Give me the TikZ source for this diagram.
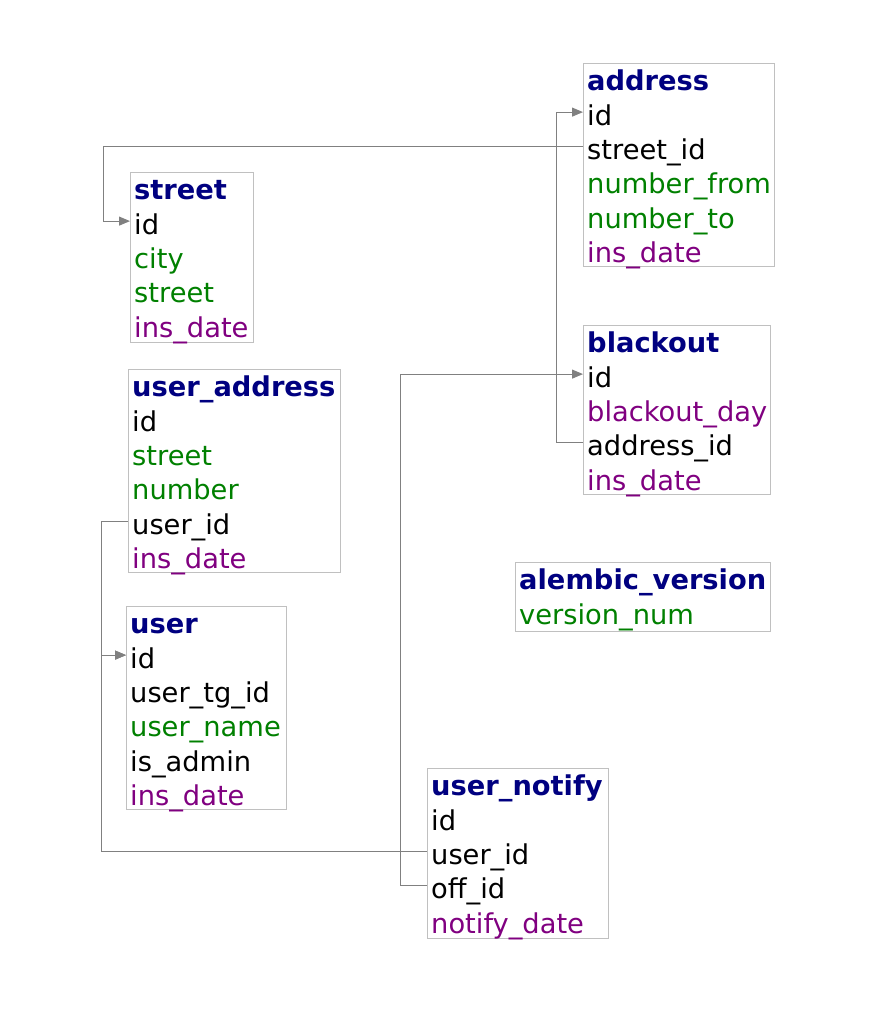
\documentclass[tikz,border=0pt]{standalone}
\usepackage{fontspec}
\setmainfont{DejaVu Sans}
\usetikzlibrary{arrows.meta}
\definecolor{ttlblue}{RGB}{0,0,128}
\definecolor{fgreen}{RGB}{0,128,0}
\definecolor{fpurple}{RGB}{128,0,128}
\definecolor{boxgray}{RGB}{192,192,192}
\definecolor{linegray}{RGB}{128,128,128}

\tikzset{
  tbl/.style={draw=boxgray, line width=1pt, anchor=north west, inner sep=0pt},
  fld/.style={anchor=north west, inner xsep=4pt, inner ysep=3.5pt,
    font=\fontsize{27.3}{27}\selectfont, text height=26.5pt, text depth=0.5pt},
  ttl/.style={fld, yshift=2.5pt, font=\fontsize{27.3}{27}\selectfont\bfseries, text=ttlblue},
  gr/.style={fld, text=fgreen},
  pu/.style={fld, text=fpurple},
  fk/.style={draw=linegray, line width=1pt, -{Triangle[length=11pt,width=9pt]}}
}

\begin{document}
\begin{tikzpicture}[x=1pt, y=-1pt]
  \useasboundingbox (0,0) rectangle (880,1020);

  % address
  \node[tbl, minimum width=191pt, minimum height=203pt] (address) at (583,63) {};
  \node[ttl] (address-t) at (address.north west) {address};
  \node[fld] (address-id) at (address-t.south west) {id};
  \node[fld] (address-street_id) at (address-id.south west) {street\_id};
  \node[gr] (address-number_from) at (address-street_id.south west) {number\_from};
  \node[gr] (address-number_to) at (address-number_from.south west) {number\_to};
  \node[pu] (address-ins_date) at (address-number_to.south west) {ins\_date};

  % street
  \node[tbl, minimum width=123pt, minimum height=170pt] (street) at (130,172) {};
  \node[ttl] (street-t) at (street.north west) {street};
  \node[fld] (street-id) at (street-t.south west) {id};
  \node[gr] (street-city) at (street-id.south west) {city};
  \node[gr] (street-street) at (street-city.south west) {street};
  \node[pu] (street-ins_date) at (street-street.south west) {ins\_date};

  % blackout
  \node[tbl, minimum width=187pt, minimum height=169pt] (blackout) at (583,325) {};
  \node[ttl] (blackout-t) at (blackout.north west) {blackout};
  \node[fld] (blackout-id) at (blackout-t.south west) {id};
  \node[pu] (blackout-blackout_day) at (blackout-id.south west) {blackout\_day};
  \node[fld] (blackout-address_id) at (blackout-blackout_day.south west) {address\_id};
  \node[pu] (blackout-ins_date) at (blackout-address_id.south west) {ins\_date};

  % user_address
  \node[tbl, minimum width=212pt, minimum height=203pt] (user_address) at (128,369) {};
  \node[ttl] (user_address-t) at (user_address.north west) {user\_address};
  \node[fld] (user_address-id) at (user_address-t.south west) {id};
  \node[gr] (user_address-street) at (user_address-id.south west) {street};
  \node[gr] (user_address-number) at (user_address-street.south west) {number};
  \node[fld] (user_address-user_id) at (user_address-number.south west) {user\_id};
  \node[pu] (user_address-ins_date) at (user_address-user_id.south west) {ins\_date};

  % alembic_version
  \node[tbl, minimum width=255pt, minimum height=69pt] (alembic_version) at (515,562) {};
  \node[ttl] (alembic_version-t) at (alembic_version.north west) {alembic\_version};
  \node[gr] (alembic_version-version_num) at (alembic_version-t.south west) {version\_num};

  % user
  \node[tbl, minimum width=160pt, minimum height=203pt] (user) at (126,606) {};
  \node[ttl] (user-t) at (user.north west) {user};
  \node[fld] (user-id) at (user-t.south west) {id};
  \node[fld] (user-user_tg_id) at (user-id.south west) {user\_tg\_id};
  \node[gr] (user-user_name) at (user-user_tg_id.south west) {user\_name};
  \node[fld] (user-is_admin) at (user-user_name.south west) {is\_admin};
  \node[pu] (user-ins_date) at (user-is_admin.south west) {ins\_date};

  % user_notify
  \node[tbl, minimum width=181pt, minimum height=170pt] (user_notify) at (427,768) {};
  \node[ttl] (user_notify-t) at (user_notify.north west) {user\_notify};
  \node[fld] (user_notify-id) at (user_notify-t.south west) {id};
  \node[fld] (user_notify-user_id) at (user_notify-id.south west) {user\_id};
  \node[fld] (user_notify-off_id) at (user_notify-user_id.south west) {off\_id};
  \node[pu] (user_notify-notify_date) at (user_notify-off_id.south west) {notify\_date};

  % foreign keys
  \draw[fk] (address-street_id.west) -| ([xshift=-27pt]street-id.west) -- (street-id.west);
  \draw[fk] (blackout-address_id.west) -| ([xshift=-27pt]address-id.west) -- (address-id.west);
  \draw[fk] (user_notify-off_id.west) -| ([xshift=-183pt]blackout-id.west) -- (blackout-id.west);
  \draw[fk] (user_address-user_id.west) -| ([xshift=-25pt]user-id.west) -- (user-id.west);
  \draw[fk] (user_notify-user_id.west) -| ([xshift=-25pt]user-id.west) -- (user-id.west);
\end{tikzpicture}
\end{document}
